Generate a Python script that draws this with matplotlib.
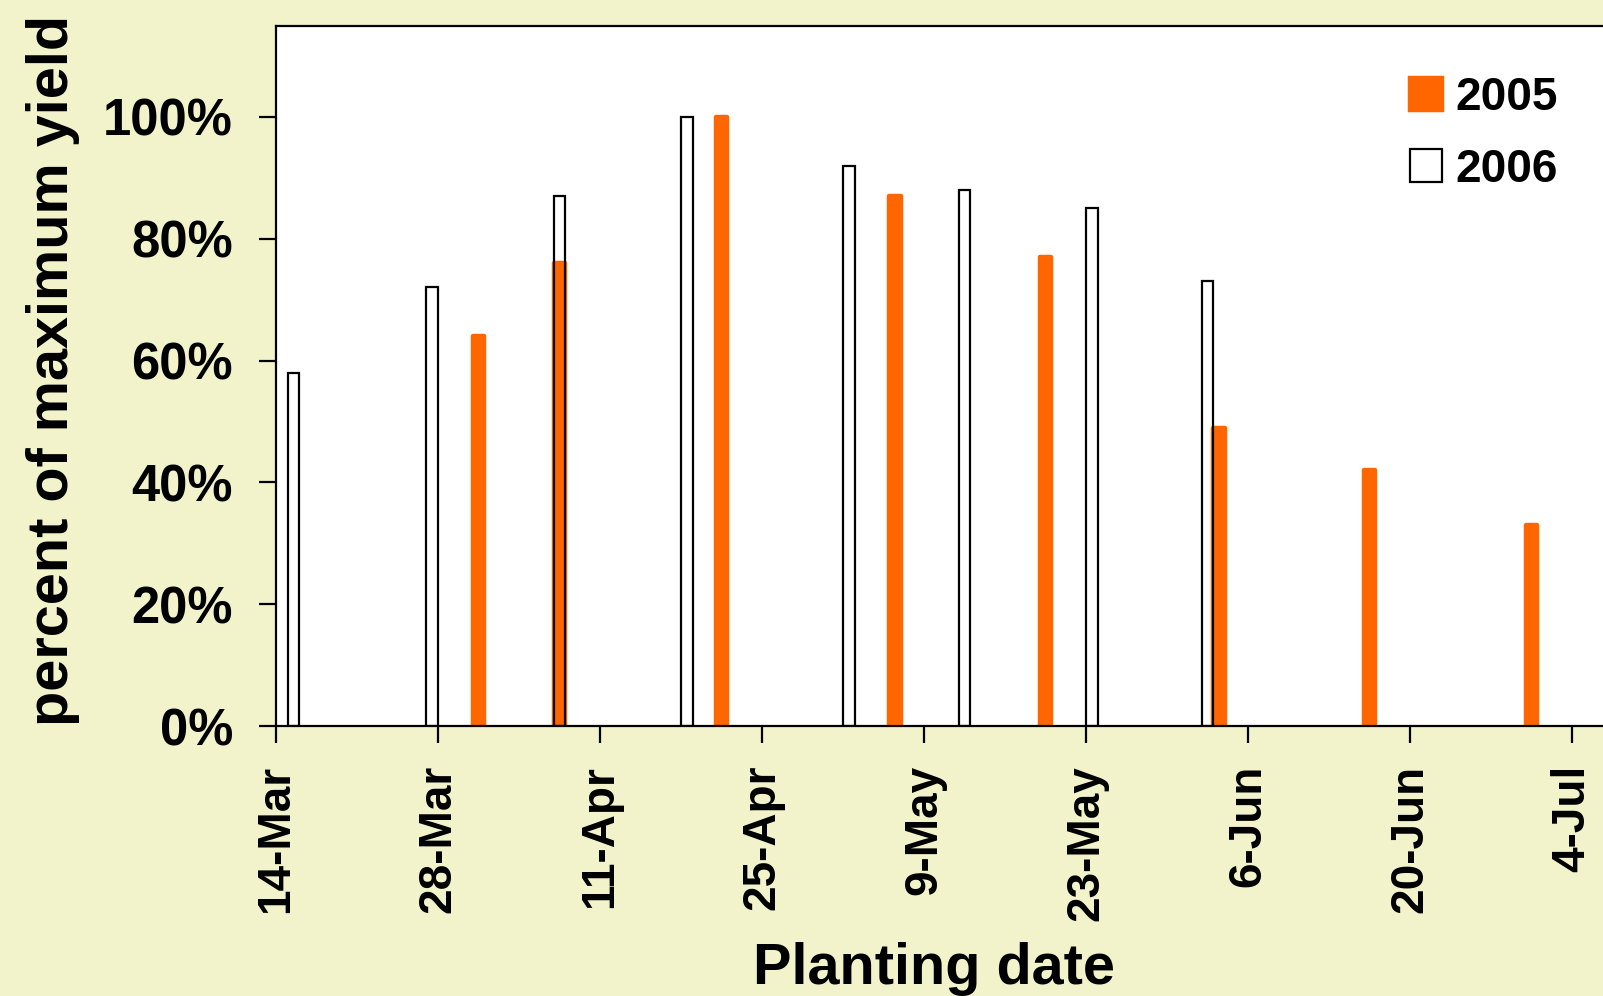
import numpy as np
import pandas as pd
import matplotlib
matplotlib.use("Agg")
import matplotlib.pyplot as plt
import matplotlib.dates as mdates
from matplotlib.ticker import PercentFormatter, FuncFormatter

# planting dates and relative yields (fraction of max)
dates_2005 = ["31-Mar", "7-Apr", "21-Apr", "6-May", "19-May", "3-Jun", "16-Jun", "30-Jun"]
yield_2005 = [0.64, 0.76, 1.00, 0.87, 0.77, 0.49, 0.42, 0.33]

dates_2006 = ["15-Mar", "27-Mar", "7-Apr", "18-Apr", "2-May", "12-May", "23-May", "2-Jun"]
yield_2006 = [0.58, 0.72, 0.87, 1.00, 0.92, 0.88, 0.85, 0.73]

x_start, x_end = "14-Mar", "18-Jul"
BASE_YEAR = 2006


def to_date(s):
    return pd.to_datetime(f"{s}-{BASE_YEAR}", format="%d-%b-%Y")


bg = "#F3F3CB"
orange = "#FF6600"

plt.rcParams["font.family"] = ["Liberation Sans", "DejaVu Sans"]
plt.rcParams["font.weight"] = "bold"

W, H = 1603, 996
fig = plt.figure(figsize=(W / 100, H / 100), dpi=100, facecolor=bg)

d0, d1 = to_date(x_start), to_date(x_end)
px_per_day = 162 / 14
ax_w = (d1 - d0).days * px_per_day
ax = fig.add_axes([276 / W, 1 - 726 / H, ax_w / W, (726 - 25.5) / H])
ax.set_facecolor("white")

x05 = mdates.date2num([to_date(d) for d in dates_2005])
x06 = mdates.date2num([to_date(d) for d in dates_2006])

ax.bar(x05, yield_2005, width=1.0, align="edge", color=orange,
       edgecolor=orange, linewidth=3.2, joinstyle="round", label="2005", zorder=2)
ax.bar(x06, yield_2006, width=1.0, align="edge", facecolor="none",
       edgecolor="black", linewidth=1.6, label="2006", zorder=3)

ax.set_xlim(mdates.date2num(d0), mdates.date2num(d1))
ax.set_ylim(0, 1.15)

ticks = pd.date_range(d0, d1, freq="14D")
ax.set_xticks(mdates.date2num(ticks))
ax.xaxis.set_major_formatter(FuncFormatter(
    lambda v, p: f"{mdates.num2date(v).day}-{mdates.num2date(v):%b}"))
ax.set_yticks(np.arange(0, 1.01, 0.2))
ax.yaxis.set_major_formatter(PercentFormatter(1.0, decimals=0))

ax.tick_params(axis="y", direction="out", length=12, width=1.6, pad=19, labelsize=36.5)
ax.tick_params(axis="x", direction="out", length=12, width=1.6, pad=16, labelsize=33,
               labelrotation=90)
for lab in ax.get_xticklabels() + ax.get_yticklabels():
    lab.set_fontweight("bold")

for sp in ax.spines.values():
    sp.set_linewidth(1.6)
    sp.set_color("black")

fig.text(25.5 / W, 1 - 370 / H, "percent of maximum yield", rotation=90,
         ha="left", va="center", fontsize=41.5, fontweight="bold")
fig.text(934 / W, 1 - 983.5 / H, "Planting date", ha="center", va="baseline",
         fontsize=41.5, fontweight="bold")

ax.legend(loc="upper left", bbox_to_anchor=(1410 / W, 1 - 76 / H),
          bbox_transform=fig.transFigure, frameon=False,
          prop={"size": 33, "weight": "bold"},
          handlelength=0.7, handleheight=0.7, handletextpad=0.3,
          labelspacing=0.6, borderpad=0, borderaxespad=0)

fig.savefig("out.png", dpi=100, facecolor=bg)
